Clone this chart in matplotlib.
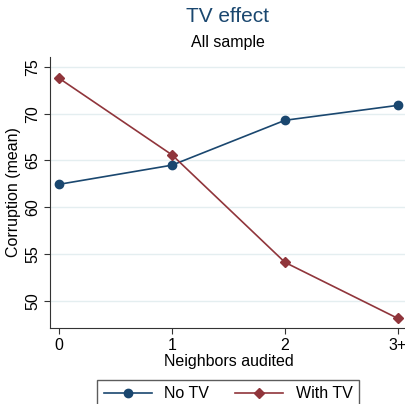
import numpy as np
import matplotlib.pyplot as plt

plt.rcParams['font.family'] = ['Liberation Sans', 'DejaVu Sans']

categories = ['0', '1', '2', '3+']
no_tv = [62.45, 64.5, 69.3, 70.9]
with_tv = [73.8, 65.6, 54.1, 48.1]
yticks = [50, 55, 60, 65, 70, 75]

navy = '#1a476f'
maroon = '#90353b'

fig = plt.figure(figsize=(4.06, 4.04), dpi=100)
ax = fig.add_axes([50/406, (404-328)/404, 357/406, (328-57)/404])

x = np.arange(len(categories))
ax.plot(x, no_tv, color=navy, marker='o', markersize=6, lw=1.2, label='No TV', zorder=3)
ax.plot(x, with_tv, color=maroon, marker='D', markersize=5.5, lw=1.2, label='With TV', zorder=3)

ax.set_xlim(-0.08, 3.08)
ax.set_ylim(47.08, 76.07)
ax.set_xticks(x)
ax.set_xticklabels(categories)
ax.set_yticks(yticks)
ax.set_yticklabels([str(v) for v in yticks], rotation=90, va='center')
ax.tick_params(labelsize=11.5, length=4, pad=3, color='#333333')
ax.grid(axis='y', color='#e4eef0', lw=1)
ax.set_axisbelow(True)
for s in ['top', 'right']:
    ax.spines[s].set_visible(False)
for s in ['left', 'bottom']:
    ax.spines[s].set_color('#333333')
ax.set_xlabel('Neighbors audited', fontsize=11.5, labelpad=1)
ax.set_ylabel('Corruption (mean)', fontsize=11.5, labelpad=3)

fig.text(228/406, 1-17/404, 'TV effect', ha='center', va='center', fontsize=15, color=navy)
fig.text(228/406, 1-42/404, 'All sample', ha='center', va='center', fontsize=11.5)

fig.legend(loc='upper center', bbox_to_anchor=(228/406, 1-372/404), ncol=2,
           fontsize=11.5, frameon=True, fancybox=False, edgecolor='#333333',
           handlelength=3.0, columnspacing=1.6, borderpad=0.4)

fig.savefig('out.png', dpi=100, facecolor='white')
